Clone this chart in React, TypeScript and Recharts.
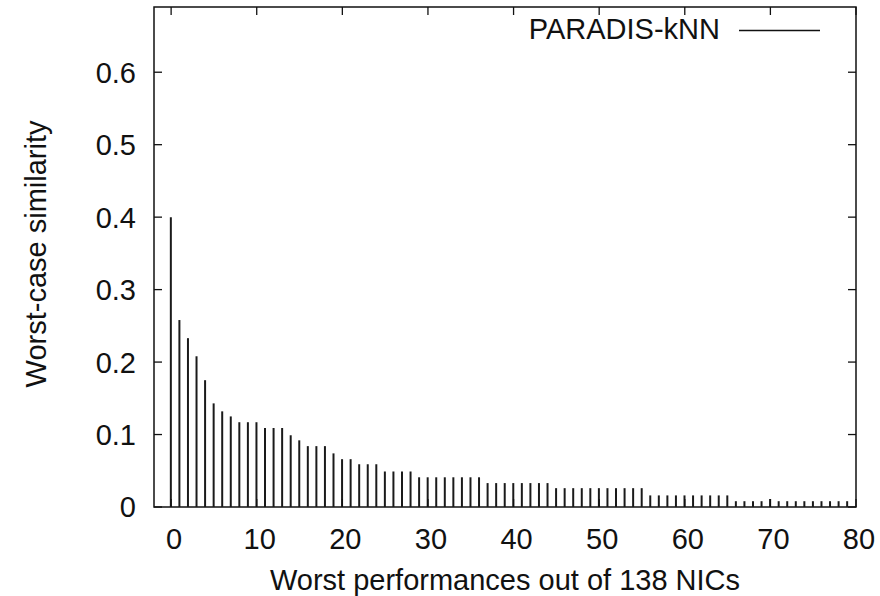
import React from "react";
import {
  BarChart,
  Bar,
  XAxis,
  YAxis,
  ReferenceArea,
  Legend,
} from "recharts";

// rank of the worst case (0 = worst)
const ranks = [
  0, 1, 2, 3, 4, 5, 6, 7, 8, 9, 10, 11, 12, 13, 14, 15, 16, 17, 18, 19,
  20, 21, 22, 23, 24, 25, 26, 27, 28, 29, 30, 31, 32, 33, 34, 35, 36, 37, 38, 39,
  40, 41, 42, 43, 44, 45, 46, 47, 48, 49, 50, 51, 52, 53, 54, 55, 56, 57, 58, 59,
  60, 61, 62, 63, 64, 65, 66, 67, 68, 69, 70, 71, 72, 73, 74, 75, 76, 77, 78, 79,
];

const similarity = [
  0.4, 0.258, 0.233, 0.208, 0.175, 0.143, 0.132, 0.125, 0.117, 0.117,
  0.117, 0.109, 0.109, 0.109, 0.099, 0.092, 0.084, 0.084, 0.084, 0.074,
  0.066, 0.066, 0.059, 0.059, 0.059, 0.049, 0.049, 0.049, 0.049, 0.041,
  0.041, 0.041, 0.041, 0.041, 0.041, 0.041, 0.041, 0.033, 0.033, 0.033,
  0.033, 0.033, 0.033, 0.033, 0.033, 0.026, 0.026, 0.026, 0.026, 0.026,
  0.026, 0.026, 0.026, 0.026, 0.026, 0.026, 0.016, 0.016, 0.016, 0.016,
  0.016, 0.016, 0.016, 0.016, 0.016, 0.016, 0.008, 0.008, 0.008, 0.008,
  0.011, 0.008, 0.008, 0.008, 0.008, 0.008, 0.008, 0.008, 0.008, 0.008,
];

const xTicks = [0, 10, 20, 30, 40, 50, 60, 70, 80];
const yTicks = [0, 0.1, 0.2, 0.3, 0.4, 0.5, 0.6];

const seriesName = "PARADIS-kNN";

const data = ranks.map((r, i) => ({ rank: r, value: similarity[i] }));

const FONT = "'Liberation Sans', Arial, Helvetica, sans-serif";
const INK = "#111";
const PLOT_TOP = 7;
const PLOT_RIGHT = 856;
const TICK_LEN = 8;

const XTick = (props: any) => {
  const { x, y, payload } = props;
  return (
    <g>
      <line x1={x} y1={y} x2={x} y2={y - TICK_LEN} stroke={INK} strokeWidth={1.3} />
      <line x1={x} y1={PLOT_TOP} x2={x} y2={PLOT_TOP + TICK_LEN} stroke={INK} strokeWidth={1.3} />
      <text x={x + 3} y={y + 41.5} textAnchor="middle" fontSize={29} fontFamily={FONT} fill={INK}>
        {payload.value}
      </text>
    </g>
  );
};

const YTick = (props: any) => {
  const { x, y, payload } = props;
  return (
    <g>
      <line x1={x} y1={y} x2={x + TICK_LEN} y2={y} stroke={INK} strokeWidth={1.3} />
      <line x1={PLOT_RIGHT} y1={y} x2={PLOT_RIGHT - TICK_LEN} y2={y} stroke={INK} strokeWidth={1.3} />
      <text x={x - 18} y={y} dy="0.36em" textAnchor="end" fontSize={29} fontFamily={FONT} fill={INK}>
        {payload.value}
      </text>
    </g>
  );
};

const KeyBox = (props: any) => {
  const entry = props.payload && props.payload[0];
  return (
    <svg width={880} height={50} style={{ display: "block" }}>
      <text x={720} y={39} textAnchor="end" fontSize={29} fontFamily={FONT} fill={INK}>
        {entry ? entry.value : seriesName}
      </text>
      <line x1={739} y1={30.5} x2={820} y2={30.5} stroke={INK} strokeWidth={1.5} />
    </svg>
  );
};

export default function App() {
  return (
    <div style={{ position: "absolute", left: 0, top: 0, background: "#fff" }}>
      <BarChart
        width={880}
        height={596}
        data={data}
        margin={{ top: PLOT_TOP, right: 880 - PLOT_RIGHT, bottom: 0, left: 0 }}
      >
        <XAxis
          dataKey="rank"
          type="number"
          domain={[-2, 80]}
          ticks={xTicks}
          allowDataOverflow
          axisLine={false}
          tickLine={false}
          tickSize={0}
          tickMargin={0}
          height={89}
          tick={<XTick />}
          interval={0}
          label={{
            value: "Worst performances out of 138 NICs",
            position: "insideBottom",
            offset: 6,
            fontSize: 29,
            fontFamily: FONT,
            fill: INK,
          }}
        />
        <YAxis
          type="number"
          domain={[0, 0.69]}
          ticks={yTicks}
          allowDataOverflow
          axisLine={false}
          tickLine={false}
          tickSize={0}
          tickMargin={0}
          width={154}
          tick={<YTick />}
          interval={0}
          label={{
            value: "Worst-case similarity",
            angle: -90,
            position: "insideLeft",
            offset: 36,
            dy: -3,
            fontSize: 29,
            fontFamily: FONT,
            fill: INK,
            style: { textAnchor: "middle" },
          }}
        />
        <Legend
          layout="horizontal"
          verticalAlign="middle"
          align="center"
          wrapperStyle={{ position: "absolute", left: 0, top: 0, width: 880, height: 50 }}
          content={<KeyBox />}
        />
        <ReferenceArea
          x1={-2}
          x2={80}
          y1={0}
          y2={0.69}
          fill="none"
          stroke={INK}
          strokeWidth={1.5}
          ifOverflow="visible"
        />
        <Bar
          dataKey="value"
          name={seriesName}
          fill="#1a1a1a"
          barSize={2}
          isAnimationActive={false}
        />
      </BarChart>
    </div>
  );
}
